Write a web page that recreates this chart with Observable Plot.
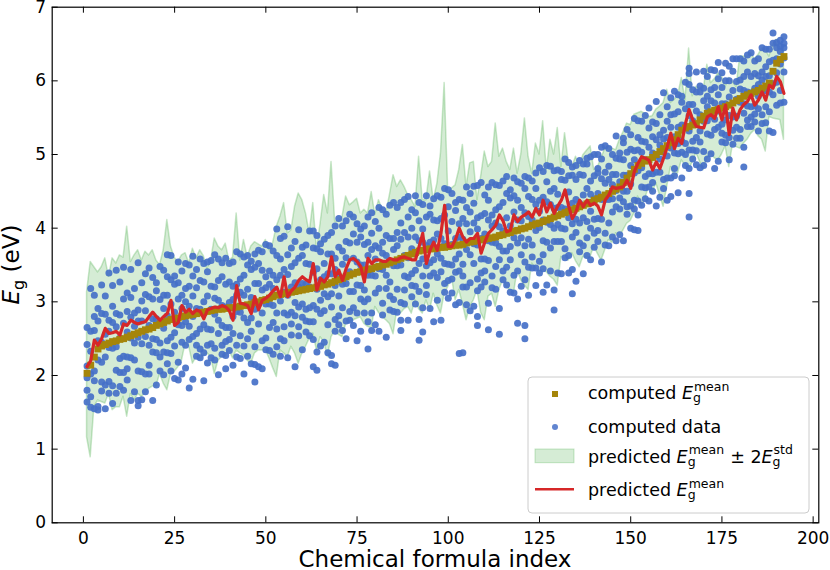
<!DOCTYPE html>
<html><head><meta charset="utf-8">
<script src="https://cdn.jsdelivr.net/npm/d3@7"></script>
<script src="https://cdn.jsdelivr.net/npm/@observablehq/plot@0.6"></script>
<style>
html,body{margin:0;padding:0;background:#fff;}
#chart{position:relative;width:830px;height:570px;}
</style></head><body><div id="chart"></div>
<script>
// computed E_g mean per chemical formula index 1..192
const goldMean = [
2.03,2.14,2.25,2.36,2.40,2.42,2.44,2.46,2.47,2.49,
2.50,2.52,2.54,2.56,2.58,2.60,2.62,2.63,2.65,2.68,
2.70,2.72,2.74,2.76,2.77,2.78,2.80,2.81,2.82,2.83,
2.84,2.85,2.86,2.87,2.88,2.89,2.90,2.90,2.91,2.92,
2.92,2.93,2.94,2.95,2.96,2.97,2.99,3.00,3.02,3.03,
3.05,3.07,3.09,3.10,3.11,3.12,3.13,3.14,3.15,3.16,
3.17,3.18,3.19,3.20,3.21,3.23,3.24,3.26,3.28,3.30,
3.32,3.34,3.36,3.38,3.40,3.41,3.43,3.44,3.45,3.47,
3.48,3.50,3.51,3.53,3.55,3.57,3.59,3.61,3.63,3.65,
3.67,3.69,3.70,3.71,3.72,3.72,3.73,3.74,3.74,3.75,
3.76,3.77,3.77,3.78,3.80,3.81,3.82,3.83,3.84,3.85,
3.86,3.87,3.88,3.90,3.91,3.93,3.94,3.96,3.97,3.99,
4.00,4.02,4.04,4.06,4.07,4.09,4.11,4.13,4.15,4.17,
4.19,4.21,4.23,4.25,4.27,4.29,4.31,4.33,4.35,4.38,
4.40,4.42,4.45,4.47,4.50,4.53,4.56,4.62,4.68,4.74,
4.80,4.85,4.88,4.91,4.93,4.96,5.00,5.04,5.08,5.12,
5.16,5.20,5.27,5.33,5.36,5.38,5.40,5.42,5.47,5.52,
5.56,5.58,5.60,5.61,5.63,5.65,5.67,5.70,5.73,5.76,
5.79,5.81,5.83,5.85,5.87,5.90,5.93,5.97,6.13,6.24,
6.29,6.33];

// predicted E_g mean
const predMean = [
2.12,2.20,2.48,2.41,2.50,2.64,2.57,2.58,2.60,2.55,
2.70,2.68,2.75,2.72,2.70,2.72,2.73,2.80,2.86,2.80,
2.75,2.80,2.84,3.02,2.68,2.72,2.95,2.86,2.90,2.84,
2.89,2.87,2.77,2.89,2.91,2.93,2.92,2.95,2.93,2.88,
2.75,3.22,2.98,2.97,2.95,2.84,3.07,2.89,3.02,3.05,
3.09,3.15,3.20,3.07,3.34,3.07,3.15,3.20,3.29,3.34,
3.30,3.27,3.52,3.16,3.32,3.27,3.34,3.61,3.34,3.43,
3.29,3.45,3.57,3.59,3.55,3.48,3.27,3.59,3.52,3.57,
3.57,3.55,3.55,3.59,3.57,3.57,3.60,3.61,3.59,3.57,
3.57,3.75,3.93,3.52,3.70,3.81,3.70,3.93,4.31,3.75,
3.75,3.85,4.00,3.88,3.81,3.86,3.86,3.93,3.66,3.81,
3.93,3.98,4.04,4.18,4.10,3.95,3.97,4.18,4.09,4.15,
4.18,4.22,4.15,4.27,4.18,4.38,4.22,4.34,4.20,4.30,
4.38,4.52,4.30,4.13,4.22,4.38,4.29,4.38,4.31,4.34,
4.30,4.18,4.38,4.45,4.56,4.54,4.55,4.56,4.65,4.54,
4.77,4.88,4.97,4.95,4.92,4.79,4.90,4.81,4.95,5.10,
5.29,5.08,5.22,5.15,5.42,5.61,5.47,5.38,5.37,5.36,
5.51,5.54,5.49,5.65,5.47,5.67,5.27,5.63,5.47,5.61,
5.68,5.72,5.81,5.67,5.74,5.85,5.74,5.94,5.90,6.06,
5.99,5.83];

// predicted mean + 2 std
const bandUpper = [
3.13,3.54,3.47,3.40,3.47,3.59,3.34,3.59,3.52,3.63,
3.60,4.02,3.54,3.63,3.70,3.56,3.68,3.63,3.70,3.56,
3.50,3.70,4.11,3.75,3.60,3.54,3.63,3.66,3.52,3.72,
3.59,3.70,3.62,3.45,3.56,3.86,3.75,3.70,3.79,3.56,
3.60,4.20,3.56,3.84,3.61,3.75,3.81,3.78,3.75,3.84,
3.70,3.80,4.02,4.16,4.34,3.93,3.97,4.29,4.47,4.38,
4.20,3.93,4.34,3.70,4.06,4.45,4.20,4.90,4.09,4.09,
4.15,4.43,4.31,4.35,4.40,4.20,4.25,4.20,4.49,4.18,
4.38,4.25,4.20,4.45,4.72,4.56,4.65,4.56,4.45,4.38,
4.29,4.97,4.38,4.38,4.77,4.38,4.60,5.02,5.97,4.47,
4.54,4.58,4.79,5.13,4.56,4.88,4.90,4.38,4.70,5.04,
4.83,4.90,5.42,4.97,5.08,4.90,4.79,5.08,4.74,5.00,
5.49,4.97,4.74,5.15,5.00,5.45,4.79,5.20,5.00,5.36,
4.83,5.29,4.90,4.83,4.97,4.83,4.99,5.05,5.11,4.79,
4.83,4.95,5.08,5.11,5.08,5.06,5.20,5.30,5.42,5.40,
5.54,5.56,5.58,5.55,5.51,5.52,5.61,5.65,5.70,5.88,
5.70,5.74,5.80,6.04,5.74,6.44,5.79,5.92,5.90,5.88,
6.22,5.97,6.02,6.10,6.06,5.92,6.04,5.98,5.92,6.33,
6.33,6.33,6.38,6.29,6.35,6.44,6.42,6.33,6.49,6.56,
6.50,6.47];

// predicted mean - 2 std
const bandLower = [
1.16,0.89,1.57,1.66,1.64,1.62,1.75,1.53,1.57,1.57,
1.71,1.44,1.75,1.66,1.75,1.71,1.76,1.82,1.85,1.85,
2.02,1.89,1.80,2.02,2.05,2.11,2.20,2.43,2.39,2.16,
2.25,2.20,2.27,2.30,2.25,2.02,2.20,2.25,2.25,2.34,
2.23,2.34,2.30,2.27,2.20,2.16,2.30,2.34,2.34,2.34,
2.23,2.10,1.98,2.34,2.30,2.25,2.39,2.30,2.16,2.30,
2.39,2.50,2.57,2.34,2.52,2.45,2.25,2.52,2.61,2.55,
2.52,2.70,2.72,2.75,2.77,2.79,2.70,2.66,2.64,2.93,
2.85,2.79,2.75,2.70,2.56,2.88,2.84,2.90,2.93,2.84,
3.02,2.90,2.84,3.02,2.88,3.11,2.95,2.84,3.11,3.20,
3.34,3.02,3.16,2.97,2.75,2.93,3.02,3.16,2.85,2.75,
3.07,3.11,2.93,3.16,3.29,3.20,3.16,3.11,3.43,3.29,
3.22,3.16,3.52,3.45,3.41,3.43,3.40,3.34,3.30,3.22,
3.61,3.58,3.56,3.66,3.55,3.47,3.61,3.60,3.61,3.75,
3.65,3.56,3.70,3.84,3.80,3.93,3.88,3.97,4.06,4.10,
4.20,4.43,4.29,4.40,4.56,4.47,4.61,4.45,4.29,4.56,
4.83,4.70,4.75,4.92,4.85,4.79,4.90,5.02,4.90,4.79,
4.95,5.02,4.95,4.92,5.00,5.11,4.83,5.13,5.10,5.08,
5.15,5.20,5.28,5.33,5.25,5.20,5.04,5.51,5.49,5.48,
5.47,5.20];

// computed data points per formula index 1..192
const computedData = [
[2.65,1.80,1.64,2.13,1.97,2.42],[3.18,1.57,2.33,1.71,2.02,2.60],[3.09,1.55,2.61,2.06,1.93,2.80],[2.91,1.58,2.21,2.47,1.53,2.74],
[2.84,1.79,3.23,2.18,2.45,1.91],[1.87,2.56,3.08,2.25,1.55,2.83],[2.60,1.92,3.39,1.76,2.75,2.38],[1.86,2.72,2.94,2.37,3.22,1.62],
[1.76,2.84,2.39,3.43,2.07,2.66],[3.27,2.23,1.85,2.82,2.51,2.04],[2.26,3.47,2.04,2.71,1.80,3.04],[2.59,2.09,2.87,1.94,3.12,2.25],
[2.79,1.66,3.06,2.24,3.44,2.51],[3.18,2.21,2.67,1.78,2.85,2.44],[2.74,2.06,3.53,1.59,2.89,2.52,1.66],[2.05,2.74,3.26,2.43,1.67,3.01],
[2.02,2.88,3.10,2.53,3.38,1.78],[3.07,2.02,3.46,2.41,2.68,2.14],[3.04,2.50,1.66,3.33,2.32,2.77],[2.31,3.26,1.87,2.77,3.15,2.49],
[3.48,2.44,2.06,3.03,2.72,2.25],[2.01,3.09,2.64,3.43,2.32,2.91],[2.81,2.31,3.09,2.16,3.34,2.47,3.64],[2.52,3.63,2.30,2.97,2.06,3.30],
[2.40,3.35,1.96,2.86,3.24,2.58],[2.18,3.04,3.26,2.69,3.54,1.94],[3.42,2.45,2.91,2.02,3.09,2.68],[2.10,3.18,2.73,3.52,2.41,3.00],
[3.21,2.67,1.83,3.50,2.49,2.94],[3.08,1.95,3.35,2.53,3.62,2.80],[2.91,2.41,3.19,2.26,3.44,2.57],[3.29,2.24,3.58,2.63,2.90,2.36],
[2.31,3.00,3.52,2.69,1.93,3.27],[2.63,3.54,2.41,3.08,2.17,3.41],[3.56,2.62,2.24,3.21,2.90,2.43],[3.05,2.37,3.64,2.21,3.20,2.83],
[3.29,2.75,2.01,3.58,2.57,3.02],[3.34,2.29,3.53,2.68,2.95,2.41],[3.59,2.65,2.27,3.24,2.93,2.46,2.09],[2.99,2.49,3.27,2.34,3.52,2.65],
[3.54,2.57,3.03,2.14,3.21,2.80],[3.09,2.41,3.68,2.25,3.24,2.87],[2.23,3.31,2.86,3.65,2.54,3.13],[2.40,3.09,3.61,2.78,2.02,3.36],
[2.72,3.63,2.50,3.17,2.26,3.50],[2.60,3.55,2.16,3.06,3.44,2.78],[2.39,3.25,3.47,2.90,3.65,2.15,1.91],[3.25,2.12,3.52,2.70,3.70,2.97],
[2.47,3.16,3.68,2.85,2.09,3.43],[3.19,2.51,3.78,2.35,3.34,2.97],[2.34,3.42,2.97,3.76,2.65,3.24],[3.69,2.72,3.18,2.29,3.36,2.95],
[2.85,3.99,2.63,3.30,2.39,3.63],[2.50,3.36,3.58,3.01,3.86,2.26],[3.89,2.85,2.47,3.44,3.13,2.66],[3.37,2.24,3.64,2.82,4.02,3.09],
[3.20,2.70,3.48,2.55,3.73,2.86],[3.53,2.99,2.12,3.82,2.81,3.26],[3.59,2.54,3.98,2.93,3.20,2.66],[2.79,3.74,2.35,3.25,3.63,2.97],
[3.24,2.74,3.52,2.59,3.77,2.90],[3.96,2.92,2.54,3.51,3.20,2.73],[2.95,3.96,2.73,3.40,2.49,3.73,2.12],[3.45,2.32,3.72,2.90,3.90,3.17,2.07],
[2.84,3.79,2.40,3.30,3.68,3.02],[3.85,2.88,3.34,2.45,3.52,3.11],[2.69,3.38,3.90,3.07,2.31,3.65],[3.65,3.11,2.27,3.94,2.93,3.38,2.16],
[3.44,2.76,4.03,2.60,3.59,3.22,2.14],[3.74,2.69,4.13,3.08,3.35,2.81],[2.61,3.69,3.24,4.03,2.92,3.51],[2.74,3.60,3.82,3.25,4.10,2.50],
[3.80,2.75,4.19,3.14,3.41,2.87],[3.14,4.15,2.92,3.59,2.68,3.92],[2.85,3.54,4.06,3.23,2.47,3.81],[3.04,3.99,2.60,3.50,3.88,3.22],
[3.50,3.00,3.78,2.85,4.03,3.16],[2.73,3.81,3.36,4.15,3.04,3.63,2.36],[2.85,3.71,3.93,3.36,4.21,2.61],[4.09,3.12,3.58,2.69,3.76,3.35],
[3.73,2.60,4.00,3.18,4.28,3.45],[3.66,2.98,4.25,2.82,3.81,3.44],[3.90,3.36,2.52,4.19,3.18,3.63],[4.31,3.27,2.89,3.86,3.55,3.08],
[3.71,3.03,4.35,2.87,3.86,3.49],[2.86,3.94,3.49,4.28,3.17,3.76],[2.99,3.85,4.07,3.50,4.35,2.75,2.61],[4.39,3.35,2.97,3.94,3.63,3.16],
[3.88,2.75,4.15,3.33,4.43,3.60],[3.72,3.22,4.00,3.07,4.25,3.38],[3.43,4.44,3.21,3.88,2.97,4.21],[3.14,3.83,4.35,3.52,2.76,4.10,2.48],
[4.32,3.35,3.81,2.92,3.99,3.58,2.59],[4.15,3.10,4.44,3.49,3.76,3.22],[3.35,4.30,2.91,3.81,4.19,3.53],[4.11,3.57,2.73,4.40,3.39,3.84],
[3.02,4.10,3.65,4.44,3.33,3.92],[4.13,3.59,2.75,4.42,3.41,3.86],[4.18,3.13,4.54,3.52,3.79,3.25],[3.51,4.52,3.29,3.96,3.05,4.29],
[4.47,3.50,3.12,4.09,3.78,3.31],[3.40,4.35,2.96,3.86,4.24,3.58],[4.39,3.42,3.88,2.99,4.06,3.65,2.30],[3.85,3.35,4.13,3.20,4.38,3.51,2.31],
[3.20,4.06,4.28,3.71,4.56,2.96],[3.26,3.95,4.47,3.64,2.88,4.22],[4.07,2.94,4.34,3.52,4.57,3.79],[3.99,3.31,4.58,3.15,4.14,3.77,2.68,2.80],
[4.62,3.58,3.20,4.17,3.86,3.39],[3.92,3.42,4.20,3.27,4.45,3.58],[4.11,2.98,4.38,3.56,4.56,3.83,2.62],[4.03,3.35,4.62,3.19,4.18,3.81],
[3.17,4.25,3.80,4.59,3.48,4.07],[4.29,3.75,2.91,4.58,3.57,4.02,2.56],[4.35,3.30,4.64,3.69,3.96,3.42],[3.69,4.70,3.47,4.14,3.23,4.47],
[3.57,4.52,3.13,4.03,4.41,3.75],[3.36,4.22,4.44,3.87,4.68,3.12],[3.42,4.11,4.63,3.80,3.04,4.38,2.71],[4.61,3.64,4.10,3.21,4.28,3.87],
[3.76,4.70,3.54,4.21,3.30,4.54,2.68,2.50],[3.47,4.16,4.68,3.85,3.09,4.43],[4.11,3.61,4.39,3.46,4.64,3.77],[3.46,4.32,4.54,3.97,4.75,3.22],
[4.23,3.55,4.82,3.39,4.38,4.01],[4.77,3.83,3.45,4.42,4.11,3.64,3.13],[4.36,3.23,4.63,3.81,4.85,4.08],[3.42,4.50,4.05,4.84,3.73,4.32],
[4.54,4.00,3.16,4.78,3.82,4.27,2.89],[4.79,3.82,4.28,3.39,4.46,4.05],[3.82,4.77,3.38,4.28,4.66,4.00],[4.65,3.60,4.94,3.99,4.26,3.72],
[3.63,4.49,4.71,4.14,4.89,3.39],[3.88,4.83,3.44,4.34,4.72,4.06,3.11],[4.66,4.12,3.28,4.85,3.94,4.39],[4.73,3.68,4.92,4.07,4.34,3.80],
[3.76,4.45,4.87,4.14,3.38,4.72],[4.09,4.95,3.87,4.54,3.63,4.87],[4.97,4.00,4.46,3.57,4.64,4.23],[5.00,4.12,3.74,4.71,4.40,3.93],
[4.47,3.97,4.75,3.82,5.00,4.13,4.81],[4.67,3.54,4.94,4.12,5.10,4.39],[4.61,3.93,5.12,3.77,4.76,4.39],[3.76,4.84,4.39,5.08,4.07,4.66],
[5.00,4.22,4.59,3.88,4.73,4.40],[4.73,3.83,4.95,4.29,5.25,4.51],[4.26,5.02,3.91,4.63,4.94,4.41],[4.93,4.50,3.83,5.16,4.36,4.72,5.22],
[5.03,4.19,5.34,4.50,4.72,4.29],[4.30,4.85,5.27,4.60,4.00,5.07],[4.93,4.38,5.49,4.26,5.05,4.75,3.98],[4.37,5.06,5.23,4.78,5.46,4.18,3.97],
[4.31,5.18,4.82,5.45,4.56,5.03],[5.53,4.70,4.40,5.17,4.93,4.55],[4.74,5.63,4.56,5.10,4.37,5.36],[5.02,4.62,5.24,4.50,5.44,4.74],
[5.20,4.30,5.42,4.76,5.72,4.98],[5.54,4.76,5.13,4.42,5.27,4.94],[5.21,4.66,5.84,4.54,5.33,5.03],[4.68,5.23,5.65,4.98,4.38,5.45],
[4.68,5.37,5.54,5.09,5.77,4.43],[5.55,4.71,5.86,5.02,5.24,4.81],[5.58,5.15,4.48,5.81,5.01,5.37],[5.03,5.79,4.68,5.40,5.71,5.18],
[5.98,5.15,4.85,5.62,5.38,5.00],[4.81,5.68,5.32,5.95,5.06,5.53,6.17,6.10,4.15,4.47],[5.46,5.06,5.68,4.94,5.88,5.18],[5.23,6.12,5.05,5.59,4.86,5.85],
[5.17,5.93,4.82,5.54,5.85,5.32],[5.04,5.73,5.90,5.45,6.13,4.85],[6.06,5.28,5.65,4.94,5.79,5.46],[5.01,5.88,5.52,6.15,5.26,5.73],
[5.91,5.48,4.81,6.14,5.34,5.70],[5.81,4.91,6.03,5.37,6.25,5.59],[5.69,5.29,5.91,5.17,6.11,5.41],[6.00,5.16,6.24,5.47,5.69,5.26],
[5.23,5.78,6.20,5.53,4.93,6.00],[5.51,6.30,5.33,5.87,5.14,6.13],[6.30,5.52,5.22,5.99,5.75,5.37],[5.89,5.34,6.30,5.22,6.01,5.71],
[6.06,5.69,5.10,6.27,5.56,5.87,4.83],[6.12,5.38,6.35,5.66,5.85,5.47],[6.38,5.65,5.38,6.06,5.84,5.51],[5.90,5.55,6.10,5.44,6.27,5.66],
[6.30,5.62,5.95,5.32,6.07,5.79],[6.01,5.54,6.45,5.42,6.12,5.86],[5.43,6.19,5.87,6.43,5.65,6.06],[5.58,6.07,6.43,5.85,5.32,6.26],
[5.96,6.65,5.81,6.28,5.30,6.51],[5.98,6.52,5.67,6.30,6.45,6.11],[5.87,6.47,6.40,6.23,6.55,5.70],[6.51,5.71,6.45,6.12,6.60,6.31]
];

const xTicks = [0,25,50,75,100,125,150,175,200];
const yTicks = [0,1,2,3,4,5,6,7];

const rows = goldMean.map((g,k)=>({i:k+1, gold:g, pred:predMean[k], hi:bandUpper[k], lo:bandLower[k]}));
const pts = computedData.flatMap((vals,k)=>vals.map(v=>({i:k+1, v})));

const W=830, H=570, ML=51.7, MR=11.7, MT=6.7, MB=47.7;
const fw = W-ML-MR, fh = H-MT-MB, T=6;
const GREEN="#2ca02c", BLUE="#4570c8", GOLD="#a5850a", RED="#d62728";

const plot = Plot.plot({
  width:W, height:H, marginLeft:ML, marginRight:MR, marginTop:MT, marginBottom:MB,
  x:{domain:[-8.55,201.55]}, y:{domain:[0,7]},
  style:{fontFamily:"'DejaVu Sans', sans-serif", fontSize:"17px", color:"#000", background:"#fff"},
  marks:[
    Plot.areaY(rows,{x:"i", y1:"lo", y2:"hi", fill:GREEN, fillOpacity:0.2, stroke:GREEN, strokeOpacity:0.25, strokeWidth:1.5}),
    Plot.dot(pts,{x:"i", y:"v", r:3.5, fill:BLUE, fillOpacity:0.92}),
    Plot.dot(rows,{x:"i", y:"gold", symbol:"square", r:3.9, fill:GOLD}),
    Plot.line(rows,{x:"i", y:"pred", stroke:RED, strokeWidth:3.2}),
    Plot.tickX(xTicks,{x:d=>d, insetTop:fh-T, stroke:"#000"}),
    Plot.tickX(xTicks,{x:d=>d, insetBottom:fh-T, stroke:"#000"}),
    Plot.tickY(yTicks,{y:d=>d, insetRight:fw-T, stroke:"#000"}),
    Plot.tickY(yTicks,{y:d=>d, insetLeft:fw-T, stroke:"#000"}),
    Plot.axisX({ticks:xTicks, tickSize:0, tickPadding:9.5, fontSize:17, label:null, tickFormat:d=>String(d)}),
    Plot.axisY({ticks:yTicks, tickSize:0, tickPadding:6, fontSize:17, label:null, tickFormat:d=>String(d)}),
    Plot.frame({stroke:"#000", strokeWidth:1.2})
  ]
});
document.getElementById("chart").appendChild(plot);

const svg = d3.select(plot);
svg.append("text").attr("x", ML+fw/2).attr("y", 567).attr("text-anchor","middle")
  .attr("font-size",23).attr("fill","#000").text("Chemical formula index");
const yl = svg.append("text").attr("transform","translate(19,264.5) rotate(-90)")
  .attr("text-anchor","middle").attr("font-size",23).attr("fill","#000");
yl.append("tspan").attr("font-style","italic").text("E");
yl.append("tspan").attr("font-size",16).attr("dy",5).text("g");
yl.append("tspan").attr("dy",-5).style("white-space","pre").text(" (eV)");

// legend
const LF=17.5, SF=12.5;
const lg = svg.append("g").attr("fill","#000").attr("text-anchor","start").style("white-space","pre");
lg.append("rect").attr("x",528).attr("y",377).attr("width",281).attr("height",136).attr("rx",4)
  .attr("fill","#fff").attr("fill-opacity",0.8).attr("stroke","#cccccc");
lg.append("rect").attr("x",552).attr("y",391).attr("width",6).attr("height",6).attr("fill",GOLD);
lg.append("circle").attr("cx",555).attr("cy",427).attr("r",3).attr("fill",BLUE).attr("fill-opacity",0.85);
lg.append("rect").attr("x",535).attr("y",449).attr("width",39).attr("height",13.7)
  .attr("fill",GREEN).attr("fill-opacity",0.2).attr("stroke",GREEN).attr("stroke-opacity",0.25);
lg.append("line").attr("x1",535).attr("x2",574).attr("y1",489.3).attr("y2",489.3).attr("stroke",RED).attr("stroke-width",2.6);

function measure(str,size,italic){
  const t = lg.append("text").attr("font-size",size).attr("font-style",italic?"italic":null).text(str);
  const w = t.node().getComputedTextLength(); t.remove(); return w;
}
function rich(x,y,segs){
  let cx=x;
  for(const s of segs){
    if(s.sup!==undefined){
      lg.append("text").attr("x",cx+1).attr("y",y-8.3).attr("font-size",SF).text(s.sup);
      lg.append("text").attr("x",cx).attr("y",y+2.8).attr("font-size",SF).text(s.sub);
      cx += Math.max(measure(s.sup,SF),measure(s.sub,SF))+1.5;
    } else {
      lg.append("text").attr("x",cx).attr("y",y).attr("font-size",LF).attr("font-style",s.it?"italic":null).text(s.t);
      cx += measure(s.t,LF,s.it);
    }
  }
}
const TX=588;
rich(TX,399,[{t:"computed "},{t:"E",it:true},{sup:"mean",sub:"g"}]);
rich(TX,432.7,[{t:"computed data"}]);
rich(TX,462.7,[{t:"predicted "},{t:"E",it:true},{sup:"mean",sub:"g"},{t:" ± 2"},{t:"E",it:true},{sup:"std",sub:"g"}]);
rich(TX,496,[{t:"predicted "},{t:"E",it:true},{sup:"mean",sub:"g"}]);
</script>
</body></html>
